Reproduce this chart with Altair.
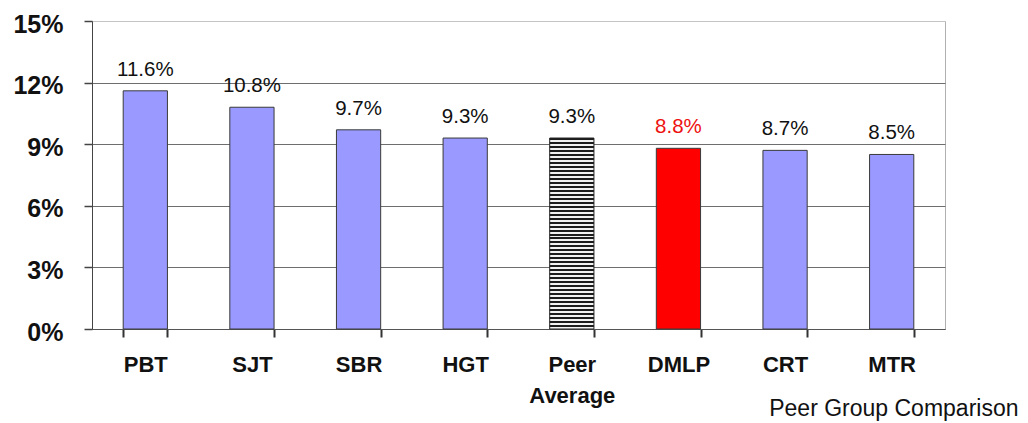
import altair as alt
import pandas as pd

# Return on equity by company, in percent
companies = ["PBT", "SJT", "SBR", "HGT", "Peer|Average", "DMLP", "CRT", "MTR"]
returns = [11.6, 10.8, 9.7, 9.3, 9.3, 8.8, 8.7, 8.5]
kinds = ["peer", "peer", "peer", "peer", "average", "focus", "peer", "peer"]

df = pd.DataFrame({"company": companies, "ret": returns, "kind": kinds})

FONT = "Liberation Sans"

# horizontal hatching for the peer-average bar, built as hard-stop gradient bands
n_stripes = 48
stops = []
for i in range(n_stripes):
    a = i / n_stripes
    m = (i + 0.5) / n_stripes
    b = (i + 1) / n_stripes
    stops += [
        {"offset": a, "color": "#1c1c1c"},
        {"offset": m, "color": "#1c1c1c"},
        {"offset": m, "color": "#f2f2f2"},
        {"offset": b, "color": "#f2f2f2"},
    ]
hatch = {"gradient": "linear", "x1": 0, "y1": 0, "x2": 0, "y2": 1, "stops": stops}

x_enc = alt.X(
    "company:N",
    sort=companies,
    scale=alt.Scale(paddingInner=0.585, paddingOuter=0.2925),
    axis=alt.Axis(
        title="Peer Group Comparison",
        titleFont=FONT,
        titleFontSize=23,
        titleFontWeight="normal",
        titleColor="#111",
        titleAlign="right",
        titleAnchor="end",
        titleX=926,
        titleY=86,
        titleBaseline="alphabetic",
        labelExpr="split(datum.label, '|')",
        labelFont=FONT,
        labelFontSize=22,
        labelFontWeight="bold",
        labelColor="#111",
        labelAngle=0,
        labelPadding=17,
        labelLineHeight=31,
        labelBaseline="top",
        ticks=True,
        tickBand="extent",
        tickExtra=True,
        tickSize=8,
        tickWidth=2,
        tickColor="#333",
        tickOpacity=1,
        domainColor="#555",
        grid=False,
    ),
)

y_enc = alt.Y(
    "ret:Q",
    scale=alt.Scale(domain=[0, 15], nice=False),
    axis=alt.Axis(
        title=None,
        values=[0, 3, 6, 9, 12, 15],
        labelExpr="datum.value + '%'",
        labelFont=FONT,
        labelFontSize=25,
        labelFontWeight="bold",
        labelColor="#111",
        labelPadding=21,
        labelOffset=3,
        ticks=True,
        tickSize=8,
        tickWidth=1.5,
        tickColor="#444",
        tickOpacity=1,
        domainColor="#444",
        gridColor=alt.condition("datum.value == 15", alt.value("#c4c4c4"), alt.value("#6e6e6e")),
        gridWidth=1,
    ),
)

base = alt.Chart(df).encode(x=x_enc, y=y_enc)

peer_bars = base.transform_filter("datum.kind == 'peer'").mark_bar(
    fill="#9999ff", stroke="#3a3a3a", strokeWidth=1
)
avg_bar = base.transform_filter("datum.kind == 'average'").mark_bar(
    fill=hatch, stroke="#222", strokeWidth=1
)
focus_bar = base.transform_filter("datum.kind == 'focus'").mark_bar(
    fill="#ff0000", stroke="#3a3a3a", strokeWidth=1
)

labels = base.mark_text(
    font=FONT, fontSize=20.5, baseline="alphabetic", dy=-15
).encode(
    text=alt.Text("label:N"),
    color=alt.condition("datum.kind == 'focus'", alt.value("#ee1111"), alt.value("#111")),
).transform_calculate(label="format(datum.ret, '.1f') + '%'")

chart = (
    alt.layer(peer_bars, avg_bar, focus_bar, labels)
    .properties(
        width=853,
        height=308,
        autosize=alt.AutoSizeParams(type="none"),
        padding={"left": 92, "top": 21, "right": 83, "bottom": 94},
        background="white",
    )
    .configure_axis(ticks=True)
    .configure_view(stroke="#b0b0b0", strokeWidth=1)
)

chart.save("out.html", embed_options={"renderer": "svg", "actions": False})
